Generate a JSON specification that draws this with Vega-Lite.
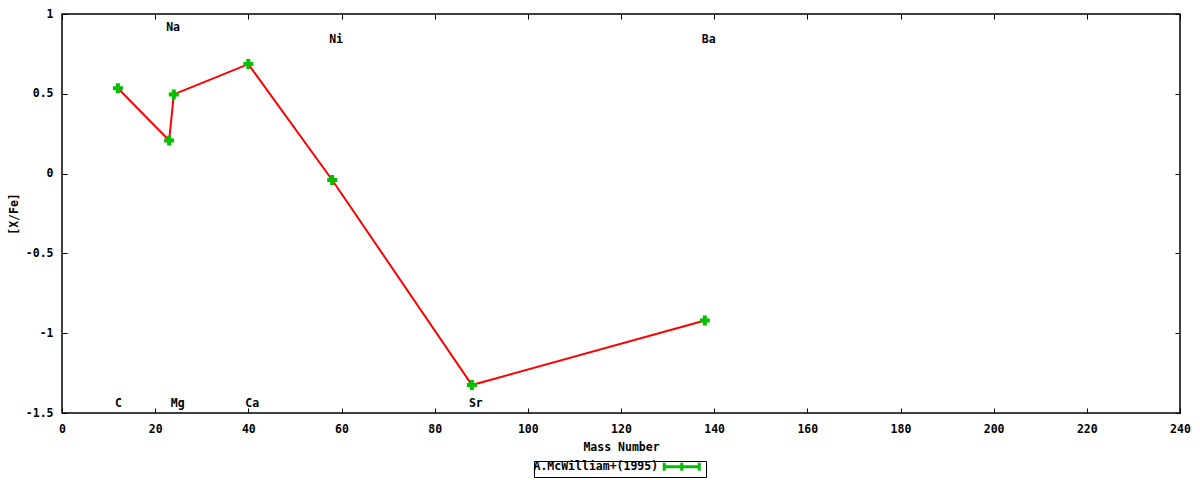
{
  "$schema": "https://vega.github.io/schema/vega-lite/v6.json",
  "width": 1118,
  "height": 399,
  "autosize": {"type": "none"},
  "padding": {"left": 62, "top": 14, "right": 20, "bottom": 67},
  "background": "white",
  "config": {
    "view": {"stroke": "black", "strokeWidth": 1.5},
    "axis": {
      "grid": false,
      "domain": false,
      "labelFont": "DejaVu Sans Mono",
      "labelFontSize": 11.5,
      "labelFontWeight": "bold",
      "labelColor": "black",
      "titleFont": "DejaVu Sans Mono",
      "titleFontSize": 11.5,
      "titleFontWeight": "bold",
      "titleColor": "black",
      "tickColor": "black",
      "tickWidth": 1,
      "labelFlush": false,
      "labelOverlap": false
    }
  },
  "datasets": {
    "abund": [
      {"element": "C", "mass": 12, "xfe": 0.535, "source": "A.McWilliam+(1995)"},
      {"element": "Na", "mass": 23, "xfe": 0.207, "source": "A.McWilliam+(1995)"},
      {"element": "Mg", "mass": 24, "xfe": 0.496, "source": "A.McWilliam+(1995)"},
      {"element": "Ca", "mass": 40, "xfe": 0.686, "source": "A.McWilliam+(1995)"},
      {"element": "Ni", "mass": 58, "xfe": -0.04, "source": "A.McWilliam+(1995)"},
      {"element": "Sr", "mass": 88, "xfe": -1.325, "source": "A.McWilliam+(1995)"},
      {"element": "Ba", "mass": 138, "xfe": -0.92, "source": "A.McWilliam+(1995)"}
    ],
    "labels": [
      {"element": "C", "mass": 12, "ypos": -1.4425},
      {"element": "Na", "mass": 23, "ypos": 0.9125},
      {"element": "Mg", "mass": 24, "ypos": -1.4425},
      {"element": "Ca", "mass": 40, "ypos": -1.4425},
      {"element": "Ni", "mass": 58, "ypos": 0.84},
      {"element": "Sr", "mass": 88, "ypos": -1.4425},
      {"element": "Ba", "mass": 138, "ypos": 0.84}
    ]
  },
  "layer": [
    {
      "data": {"name": "abund"},
      "mark": {"type": "line", "color": "#ff0000", "strokeWidth": 2},
      "encoding": {
        "x": {
          "field": "mass", "type": "quantitative",
          "scale": {"domain": [0, 240], "nice": false, "zero": false},
          "axis": {
            "orient": "bottom", "ticks": false,
            "values": [0, 20, 40, 60, 80, 100, 120, 140, 160, 180, 200, 220, 240],
            "labelPadding": 10,
            "title": "Mass Number", "titleX": 559, "titleY": 34, "titleBaseline": "middle", "titleAlign": "center"
          }
        },
        "y": {
          "field": "xfe", "type": "quantitative",
          "scale": {"domain": [-1.5, 1], "nice": false, "zero": false},
          "axis": {
            "orient": "left", "ticks": false,
            "values": [-1.5, -1, -0.5, 0, 0.5, 1],
            "labelExpr": "datum.value + ''",
            "labelPadding": 9,
            "title": "[X/Fe]", "titleX": -48, "titleY": 199.5, "titleAngle": -90,
            "titleBaseline": "middle", "titleAlign": "center"
          }
        }
      }
    },
    {
      "data": {"name": "abund"},
      "mark": {"type": "point", "shape": "cross", "filled": true, "size": 100, "opacity": 1},
      "encoding": {
        "x": {
          "field": "mass", "type": "quantitative",
          "axis": {
            "orient": "bottom", "labels": false, "tickSize": -5, "title": null,
            "values": [0, 20, 40, 60, 80, 100, 120, 140, 160, 180, 200, 220, 240]
          }
        },
        "y": {
          "field": "xfe", "type": "quantitative",
          "axis": {
            "orient": "left", "labels": false, "tickSize": -5, "title": null,
            "values": [-1.5, -1, -0.5, 0, 0.5, 1]
          }
        },
        "color": {
          "field": "source", "type": "nominal",
          "scale": {"range": ["#00c000"]},
          "legend": {
            "orient": "none",
            "legendX": 472,
            "legendY": 447,
            "title": null,
            "strokeColor": "black",
            "padding": 0,
            "rowPadding": 0,
            "symbolType": "M-4.375,0H4.375M-4.375,-1V1M4.375,-1V1M0,-1V1",
            "symbolSize": 64,
            "symbolStrokeWidth": 3,
            "symbolStrokeColor": "#00c000",
            "symbolOffset": 142,
            "labelOffset": -154,
            "labelFont": "DejaVu Sans Mono",
            "labelFontSize": 11.5,
            "labelFontWeight": "bold",
            "labelColor": "black",
            "encode": {
              "symbols": {
                "update": {
                  "stroke": {"value": "#00c000"},
                  "strokeWidth": {"value": 3},
                  "fill": {"value": "transparent"},
                  "opacity": {"value": 1}
                }
              }
            }
          }
        }
      }
    },
    {
      "data": {"name": "labels"},
      "mark": {
        "type": "text", "align": "left", "dx": -3, "baseline": "middle",
        "font": "DejaVu Sans Mono", "fontSize": 11.5, "fontWeight": "bold", "color": "black"
      },
      "encoding": {
        "x": {
          "field": "mass", "type": "quantitative",
          "axis": {
            "orient": "top", "labels": false, "tickSize": -5, "title": null,
            "values": [0, 20, 40, 60, 80, 100, 120, 140, 160, 180, 200, 220, 240]
          }
        },
        "y": {
          "field": "ypos", "type": "quantitative",
          "axis": {
            "orient": "right", "labels": false, "tickSize": -5, "title": null,
            "values": [-1.5, -1, -0.5, 0, 0.5, 1]
          }
        },
        "text": {"field": "element"}
      }
    }
  ],
  "resolve": {"axis": {"x": "independent", "y": "independent"}}
}
